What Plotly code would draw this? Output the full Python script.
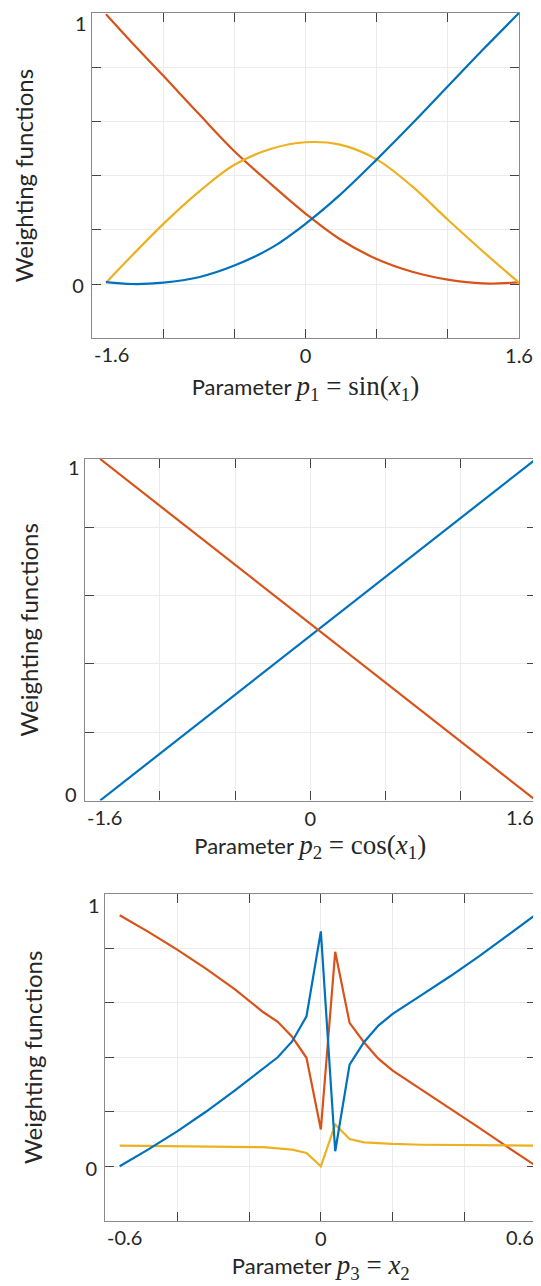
import plotly.graph_objects as go

W, H = 541, 1286

# ---------------- data ----------------
# Panel 1: parameter p1 = sin(x1)
p1 = [-1.495, -1.3, -1.065, -0.8, -0.533, -0.25, 0.0, 0.25, 0.533, 0.8, 1.067, 1.33, 1.6]
p1_blue = [0.007, 0.0, 0.005, 0.025, 0.068, 0.135, 0.222, 0.325, 0.459, 0.592, 0.73, 0.865, 1.0]
p1_red = [0.995, 0.89, 0.768, 0.628, 0.49, 0.365, 0.26, 0.168, 0.092, 0.045, 0.016, 0.002, 0.006]
p1_yellow = [0.005, 0.105, 0.222, 0.34, 0.44, 0.5, 0.523, 0.515, 0.46, 0.36, 0.237, 0.12, 0.005]

# Panel 2: parameter p2 = cos(x1)
p2 = [-1.49, 1.6]
p2_blue = [0.0, 1.0]
p2_red = [1.0, 0.0]

# Panel 3: parameter p3 = x2
p3 = [-0.56, -0.48, -0.4, -0.32, -0.24, -0.16, -0.12, -0.08, -0.04, 0.0, 0.04, 0.08,
      0.12, 0.16, 0.2, 0.28, 0.36, 0.44, 0.52, 0.6]
p3_blue = [0.0, 0.062, 0.128, 0.2, 0.278, 0.36, 0.40, 0.458, 0.55, 0.862, 0.055, 0.373,
           0.455, 0.516, 0.559, 0.628, 0.697, 0.77, 0.848, 0.925]
p3_red = [0.921, 0.86, 0.795, 0.725, 0.65, 0.565, 0.53, 0.475, 0.398, 0.135, 0.787, 0.526,
          0.455, 0.395, 0.351, 0.282, 0.212, 0.142, 0.07, 0.0]
p3_yellow = [0.076, 0.075, 0.075, 0.074, 0.073, 0.07, 0.066, 0.061, 0.049, 0.0, 0.153, 0.1,
             0.088, 0.084, 0.082, 0.079, 0.078, 0.077, 0.076, 0.076]

# axis ranges, tick positions / labels
x12_range = [-1.6, 1.6]
x3_range = [-0.6, 0.6]
y13_range = [-0.2, 1.0]
y2_range = [0.0, 1.0]
x12_ticks = [-1.6, -1.6 + 1.6 / 3, -1.6 + 3.2 / 3, 0.0, 1.6 / 3, 3.2 / 3, 1.6]
x12_text_p1 = ["", "", "", "0", "", "", "1.6"]
x12_text_p2 = ["", "", "", "0", "", "", ""]
x3_ticks = [-0.6, -0.4, -0.2, 0.0, 0.2, 0.4, 0.6]
x3_text = ["", "", "", "0", "", "", ""]
y_ticks = [-0.2, 0.0, 0.2, 0.4, 0.6, 0.8, 1.0]
y_text = ["", "0", "", "", "", "", ""]

BLUE, RED, YEL = "#0072BD", "#D95319", "#EDB120"
FONT = "Lato"
TXT = "#262626"
TICK_SIZE = 20

fig = go.Figure()
LW = 2.2


def add(x, y, color, xa, ya, shape="linear"):
    fig.add_trace(go.Scatter(x=x, y=y, mode="lines", xaxis=xa, yaxis=ya,
                             line=dict(color=color, width=LW, shape=shape),
                             showlegend=False, hoverinfo="skip"))


add(p1, p1_red, RED, "x", "y", "spline")
add(p1, p1_yellow, YEL, "x", "y", "spline")
add(p1, p1_blue, BLUE, "x", "y", "spline")
add(p2, p2_blue, BLUE, "x2", "y2")
add(p2, p2_red, RED, "x2", "y2")
add(p3, p3_red, RED, "x3", "y3")
add(p3, p3_yellow, YEL, "x3", "y3")
add(p3, p3_blue, BLUE, "x3", "y3")


def px_x(a, b):
    return [a / W, b / W]


def px_y(top, bottom):
    return [1 - bottom / H, 1 - top / H]


def math(sub, rhs):
    return ("Parameter <span style=\"font-family:'Liberation Serif';font-size:27px\">"
            "<i>p</i><sub>%s</sub> = %s</span>" % (sub, rhs))


def xcfg(domain, rng, tv, tt, anchor, title, standoff):
    return dict(domain=domain, range=rng, anchor=anchor, tickmode="array",
                tickvals=tv, ticktext=tt, ticks="inside", ticklen=9, tickwidth=1,
                tickcolor="#444", showline=True, linecolor="#8a8a8a", linewidth=1.2,
                mirror="ticks", showgrid=True, gridcolor="#ebebeb", gridwidth=1,
                zeroline=False, automargin=False, ticklabeloverflow="allow",
                tickfont=dict(family=FONT, size=TICK_SIZE, color=TXT),
                title=dict(text=title, standoff=standoff,
                           font=dict(family=FONT, size=22, color=TXT)))


def ycfg(domain, rng, tv, tt, anchor, shift, standoff):
    return dict(domain=domain, range=rng, anchor=anchor, tickmode="array",
                tickvals=tv, ticktext=tt, ticks="inside", ticklen=9, tickwidth=1,
                tickcolor="#444", showline=True, linecolor="#8a8a8a", linewidth=1.2,
                mirror="ticks", showgrid=True, gridcolor="#ebebeb", gridwidth=1,
                zeroline=False, automargin=False, ticklabelstandoff=3,
                ticklabelshift=shift, ticklabeloverflow="allow",
                tickfont=dict(family=FONT, size=TICK_SIZE, color=TXT),
                title=dict(text="Weighting functions", standoff=standoff,
                           font=dict(family=FONT, size=24, color=TXT)))


fig.update_layout(
    width=W, height=H, margin=dict(l=0, r=0, t=0, b=0, autoexpand=False),
    paper_bgcolor="white", plot_bgcolor="white",
    xaxis=xcfg(px_x(84, 511), x12_range, x12_ticks, x12_text_p1, "y",
               math("1", "sin(<i>x</i><sub>1</sub>)"), 13),
    yaxis=ycfg(px_y(5, 330.2), y13_range, y_ticks, y_text, "x", 2, 31),
    xaxis2=xcfg(px_x(76.6, 528), x12_range, x12_ticks, x12_text_p2, "y2",
                math("2", "cos(<i>x</i><sub>1</sub>)"), 2),
    yaxis2=ycfg(px_y(451, 792.5), y2_range, y_ticks[1:], y_text[1:], "x2", -6, 19),
    xaxis3=xcfg(px_x(97.3, 528.4), x3_range, x3_ticks, x3_text, "y3",
                math("3", "<i>x</i><sub>2</sub>"), 8),
    yaxis3=ycfg(px_y(885.7, 1212.8), y13_range, y_ticks, y_text, "x3", 3, 36),
)

# tick labels at the ends of the axes, which MATLAB pulled inside the axes box
edge_labels = [
    ("x", "y", x12_range[0], "-1.6", "left"),
    ("x2", "y2", x12_range[0], "-1.6", "left"),
    ("x2", "y2", x12_range[1], "1.6", "right"),
    ("x3", "y3", x3_range[0], "-0.6", "left"),
    ("x3", "y3", x3_range[1], "0.6", "right"),
]
for xa, ya, xv, txt, anc in edge_labels:
    fig.add_annotation(x=xv, xref=xa, y=0, yref=ya + " domain", text=txt,
                       showarrow=False, xanchor=anc, yanchor="top", yshift=-2,
                       font=dict(family=FONT, size=TICK_SIZE, color=TXT))

# top "1" labels of the y axes
for xa, ya, yv, dy in [("x", "y", y13_range[1], -10), ("x2", "y2", y2_range[1], -8),
                       ("x3", "y3", y13_range[1], -11)]:
    fig.add_annotation(x=0, xref=xa + " domain", y=yv, yref=ya, text="1",
                       showarrow=False, xanchor="right", yanchor="middle",
                       xshift=-3, yshift=dy,
                       font=dict(family=FONT, size=TICK_SIZE, color=TXT))

fig.write_html("out.html")
